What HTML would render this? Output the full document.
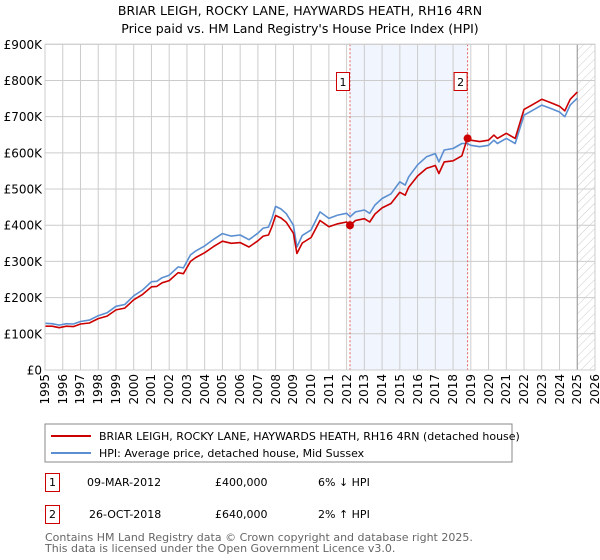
<!DOCTYPE html>
<html><head><meta charset="utf-8"><style>
body{margin:0;background:#fff;font-family:"DejaVu Sans","Liberation Sans",sans-serif;}
#wrap{position:relative;width:600px;height:560px;overflow:hidden;}
svg text{font-family:"DejaVu Sans","Liberation Sans",sans-serif;}
.xl{position:absolute;top:374px;width:14px;font-size:12px;line-height:14px;writing-mode:vertical-rl;transform:rotate(180deg);white-space:nowrap;color:#000;}
</style></head><body>
<div id="wrap">
<svg id="chart" width="600" height="560" viewBox="0 0 600 560" style="position:absolute;left:0;top:0">
<defs><pattern id="hatch" width="6" height="6" patternUnits="userSpaceOnUse" patternTransform="rotate(45)"><line x1="0" y1="0" x2="0" y2="6" stroke="#ccc" stroke-width="1"/></pattern></defs>
<text x="300" y="15" text-anchor="middle" font-size="12.5" fill="#000">BRIAR LEIGH, ROCKY LANE, HAYWARDS HEATH, RH16 4RN</text>
<text x="300" y="33" text-anchor="middle" font-size="12.5" fill="#000">Price paid vs. HM Land Registry's House Price Index (HPI)</text>
<g id="plot"></g>
<rect x="45" y="424" width="467" height="38" fill="#fff" stroke="#888"/>
<line x1="51" y1="436" x2="91" y2="436" stroke="#cc0000" stroke-width="2"/>
<text x="99" y="440" font-size="11">BRIAR LEIGH, ROCKY LANE, HAYWARDS HEATH, RH16 4RN (detached house)</text>
<line x1="51" y1="453" x2="91" y2="453" stroke="#5b8fd1" stroke-width="2"/>
<text x="99" y="457" font-size="11">HPI: Average price, detached house, Mid Sussex</text>
<g>
<rect x="45.5" y="473.5" width="14" height="18" fill="#fff" stroke="#cc0000"/>
<text x="52.5" y="486" font-size="11" text-anchor="middle">1</text>
<text x="87" y="486" font-size="11">09-MAR-2012</text>
<text x="215" y="486" font-size="11">£400,000</text>
<text x="318" y="486" font-size="11">6% ↓ HPI</text>
</g>
<g>
<rect x="45.5" y="505.5" width="14" height="18" fill="#fff" stroke="#cc0000"/>
<text x="52.5" y="518" font-size="11" text-anchor="middle">2</text>
<text x="89" y="518" font-size="11">26-OCT-2018</text>
<text x="215" y="518" font-size="11">£640,000</text>
<text x="318" y="518" font-size="11">2% ↑ HPI</text>
</g>
<text x="45" y="541" font-size="11" fill="#666">Contains HM Land Registry data © Crown copyright and database right 2025.</text>
<text x="45" y="552" font-size="11" fill="#666">This data is licensed under the Open Government Licence v3.0.</text>
</svg>
<div id="xlabels"></div>
</div>
<script>
const yTicks=[0,100,200,300,400,500,600,700,800,900];
const yTickLabels=["£0","£100K","£200K","£300K","£400K","£500K","£600K","£700K","£800K","£900K"];
const xYears=[1995,1996,1997,1998,1999,2000,2001,2002,2003,2004,2005,2006,2007,2008,2009,2010,2011,2012,2013,2014,2015,2016,2017,2018,2019,2020,2021,2022,2023,2024,2025,2026];
const hpiDates=[1995.0,1995.4,1995.8,1996.2,1996.6,1997.0,1997.5,1998.0,1998.5,1999.0,1999.5,2000.0,2000.5,2001.0,2001.3,2001.6,2002.0,2002.5,2002.8,2003.2,2003.5,2004.0,2004.5,2005.0,2005.5,2006.0,2006.5,2007.0,2007.3,2007.6,2007.8,2008.0,2008.3,2008.6,2009.0,2009.2,2009.5,2010.0,2010.5,2011.0,2011.5,2012.0,2012.2,2012.5,2013.0,2013.3,2013.6,2014.0,2014.5,2015.0,2015.3,2015.5,2016.0,2016.5,2017.0,2017.2,2017.5,2018.0,2018.5,2018.8,2019.0,2019.5,2020.0,2020.3,2020.5,2021.0,2021.5,2022.0,2022.5,2023.0,2023.5,2024.0,2024.3,2024.6,2025.0];
const hpiValues=[129,128,124,128,127,134,138,150,158,176,181,205,221,244,245,255,262,285,282,318,329,343,361,377,370,373,360,378,392,395,420,452,445,432,400,340,372,387,437,419,428,433,424,437,442,433,456,474,487,520,511,534,567,589,598,575,608,612,626,626,621,617,621,635,626,640,626,704,718,732,723,713,700,732,751];
const priceValues=[121,121,117,121,120,127,130,142,149,166,171,194,209,230,231,241,247,269,266,300,311,324,341,356,350,352,340,357,370,373,397,427,420,408,378,322,351,366,413,396,404,409,400,413,418,409,431,448,460,491,483,505,536,557,565,543,575,578,592,640,635,631,635,649,640,654,640,720,734,748,739,729,716,748,768];
const saleDates=[2012.19,2018.82];
const saleValues=[400,640];
const saleLabels=["1","2"];

const X0=45,X1=595,Y0=370,Y1=44.3;
const xs=y=>X0+(y-1995)/(2026-1995)*(X1-X0);
const ys=v=>Y0-v/900*(Y0-Y1);
const NS="http://www.w3.org/2000/svg";
const plot=document.getElementById('plot');
function mk(t,a,p){const e=document.createElementNS(NS,t);for(const k in a)e.setAttribute(k,a[k]);(p||plot).appendChild(e);return e;}

const shade=mk('rect',{x:xs(saleDates[0]),y:Y1,width:xs(saleDates[1])-xs(saleDates[0]),height:Y0-Y1,fill:'#eef3fd',opacity:0.8});


const hat=mk('rect',{x:xs(2025),y:Y1,width:X1-xs(2025),height:Y0-Y1,fill:'url(#hatch)'});



yTicks.forEach((v,i)=>{
 const g=mk('line',{x1:X0,x2:X1,y1:ys(v),y2:ys(v),stroke:'#ccc','stroke-width':1});
 
 
 const t=mk('text',{x:X0-3,y:ys(v)+4.5,'text-anchor':'end','font-size':12});
 t.textContent=yTickLabels[i];
 
 
});
const xl=document.getElementById('xlabels');
xYears.forEach(yr=>{
 const g=mk('line',{x1:xs(yr),x2:xs(yr),y1:Y1,y2:Y0,stroke:'#ccc','stroke-width':1});
 
 
 const d=document.createElement('div');
 d.className='xl';
 d.style.left=(xs(yr)-7)+'px';
 d.textContent=yr;
 
 
 xl.appendChild(d);
});
const nowLine=mk('line',{x1:xs(2025),x2:xs(2025),y1:Y1,y2:Y0,stroke:'#999','stroke-width':1});



saleDates.forEach((d,i)=>{
 const l=mk('line',{x1:xs(d),x2:xs(d),y1:Y1,y2:Y0,stroke:'#e06060','stroke-width':1,'stroke-dasharray':'2,2'});
 
 
});

function path(vals,col,name){
 let d='';hpiDates.forEach((t,i)=>{d+=(i?'L':'M')+xs(t).toFixed(1)+','+ys(vals[i]).toFixed(1);});
 const p=mk('path',{d:d,fill:'none',stroke:col,'stroke-width':1.6,'stroke-linejoin':'round'});
 
 
}
path(hpiValues,'#5b8fd1','hpi-line');
path(priceValues,'#cc0000','price-paid-line');

saleDates.forEach((d,i)=>{
 const c=mk('circle',{cx:xs(d),cy:ys(saleValues[i]),r:4,fill:'#cc0000'});
 
 
 const bx=xs(d)-14;
 const r=mk('rect',{x:bx+0.5,y:72.5,width:13,height:18,fill:'#fff',stroke:'#cc0000'});
 
 
 const t=mk('text',{x:bx+7,y:86,'text-anchor':'middle','font-size':11});
 t.textContent=saleLabels[i];
 
 
});
const axis=mk('rect',{x:X0,y:Y1,width:X1-X0,height:Y0-Y1,fill:'none',stroke:'#ccc'});


</script>
</body></html>
